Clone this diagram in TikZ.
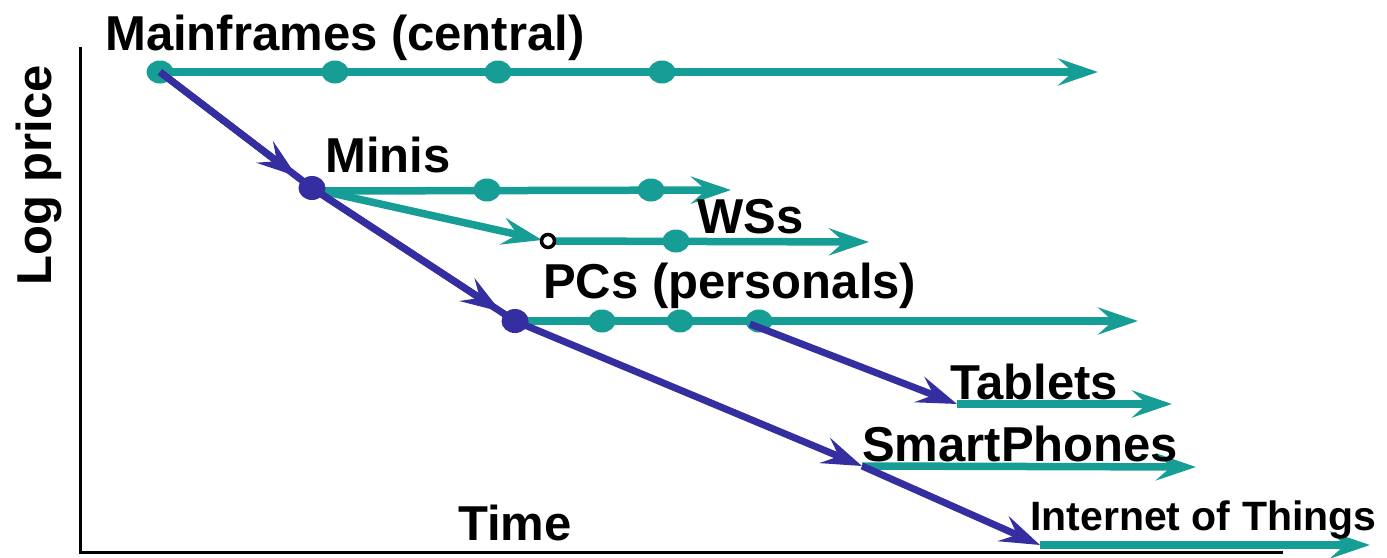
\documentclass[tikz,border=0pt]{standalone}
\usepackage{fontspec}
\setmainfont{Liberation Sans}
\usetikzlibrary{arrows.meta,shapes.geometric,calc}
\definecolor{teal1}{RGB}{22,158,150}
\definecolor{blue1}{RGB}{52,46,160}
\begin{document}
\begin{tikzpicture}[x=1pt,y=-1pt,
  tl/.style={draw=teal1,line width=7.5pt},
  bl/.style={draw=blue1,line width=7pt},
  tip/.style={-{Stealth[length=40pt,width=27pt,inset=15pt]}},
  tdot/.style={ellipse,fill=teal1,minimum width=27pt,minimum height=23pt,inner sep=0pt},
  bdot/.style={ellipse,fill=blue1,minimum width=27pt,minimum height=24pt,inner sep=0pt},
  lab/.style={anchor=base west,inner sep=0pt,font=\fontsize{49}{58}\selectfont\bfseries},
  labs/.style={anchor=base west,inner sep=0pt,font=\fontsize{41}{50}\selectfont\bfseries},
  axis/.style={draw=black,line width=3pt}]
\useasboundingbox (0,0) rectangle (1387,557);
% axes
\coordinate (ax0) at (80,47);
\coordinate (ax1) at (80,552);
\coordinate (ax2) at (1283,552);
\draw[axis] (ax0) -- (ax1) -- (ax2);
% key points
\coordinate (mf0) at (160,72);
\coordinate (mf1) at (335,72);
\coordinate (mf2) at (498,72);
\coordinate (mf3) at (662,72);
\coordinate (mfe) at (1098,72);
\coordinate (mi0) at (312,188);
\coordinate (mis) at (322,191);
\coordinate (mi1) at (487,190);
\coordinate (mi2) at (651,190);
\coordinate (mie) at (731,190);
\coordinate (wsa) at (542,240);
\coordinate (ws0) at (548,241);
\coordinate (ws1) at (676,241);
\coordinate (wse) at (869,242);
\coordinate (pc0) at (515,321);
\coordinate (pc1) at (602,321);
\coordinate (pc2) at (680,321);
\coordinate (pc3) at (759,321);
\coordinate (pcb) at (750,324);
\coordinate (pce) at (1138,321);
\coordinate (tb0) at (957,404);
\coordinate (tbe) at (1172,404);
\coordinate (sp0) at (862,466);
\coordinate (spe) at (1196,467);
\coordinate (io0) at (1040,545);
\coordinate (ioe) at (1370,545);
% teal lines
\draw[tl,tip] (mf0) -- (mfe);
\draw[tl,tip] (mis) -- (mie);
\draw[tl,tip] (mis) -- (wsa);
\draw[tl,tip] (ws0) -- (wse);
\draw[tl,tip] (pc0) -- (pce);
\draw[tl,tip] (tb0) -- (tbe);
\draw[tl,tip] (sp0) -- (spe);
\draw[tl,tip] (io0) -- (ioe);
% teal dots
\node[tdot] (dmf0) at (mf0) {};
\node[tdot] (dmf1) at (mf1) {};
\node[tdot] (dmf2) at (mf2) {};
\node[tdot] (dmf3) at (mf3) {};
\node[tdot] (dmi1) at (mi1) {};
\node[tdot] (dmi2) at (mi2) {};
\node[tdot] (dws1) at (ws1) {};
\node[tdot] (dpc1) at (pc1) {};
\node[tdot] (dpc2) at (pc2) {};
\node[tdot] (dpc3) at (pc3) {};
\node[circle,draw=black,fill=white,line width=3.5pt,minimum size=13pt,inner sep=0pt] (ows) at (ws0) {};
% blue lines
\draw[bl,tip] (mf0) -- ($(mf0)!0.9!(mi0)$);
\draw[bl] (mf0) -- (mi0);
\draw[bl,tip] (mi0) -- ($(mi0)!0.93!(pc0)$);
\draw[bl] (mi0) -- (pc0);
\draw[bl,tip] (pcb) -- (tb0);
\draw[bl,tip] (pc0) -- (sp0);
\draw[bl,tip] (sp0) -- (io0);
% blue dots
\node[bdot] (dmi0) at (mi0) {};
\node[bdot] (dpc0) at (pc0) {};
% labels
\node[lab] (tmf) at (105,50) {Mainframes (central)};
\node[lab] (tmi) at (325,172) {Minis};
\node[lab] (tws) at (697,233) {WSs};
\node[lab] (tpc) at (543,298) {PCs (personals)};
\node[lab] (ttb) at (950,399) {Tablets};
\node[lab] (tsp) at (862,461) {SmartPhones};
\node[labs] (tio) at (1030,530) {Internet of Things};
\node[lab] (ttime) at (458,540) {Time};
\node[lab,rotate=90] (tlog) at (51,286) {Log price};
\end{tikzpicture}
\end{document}
